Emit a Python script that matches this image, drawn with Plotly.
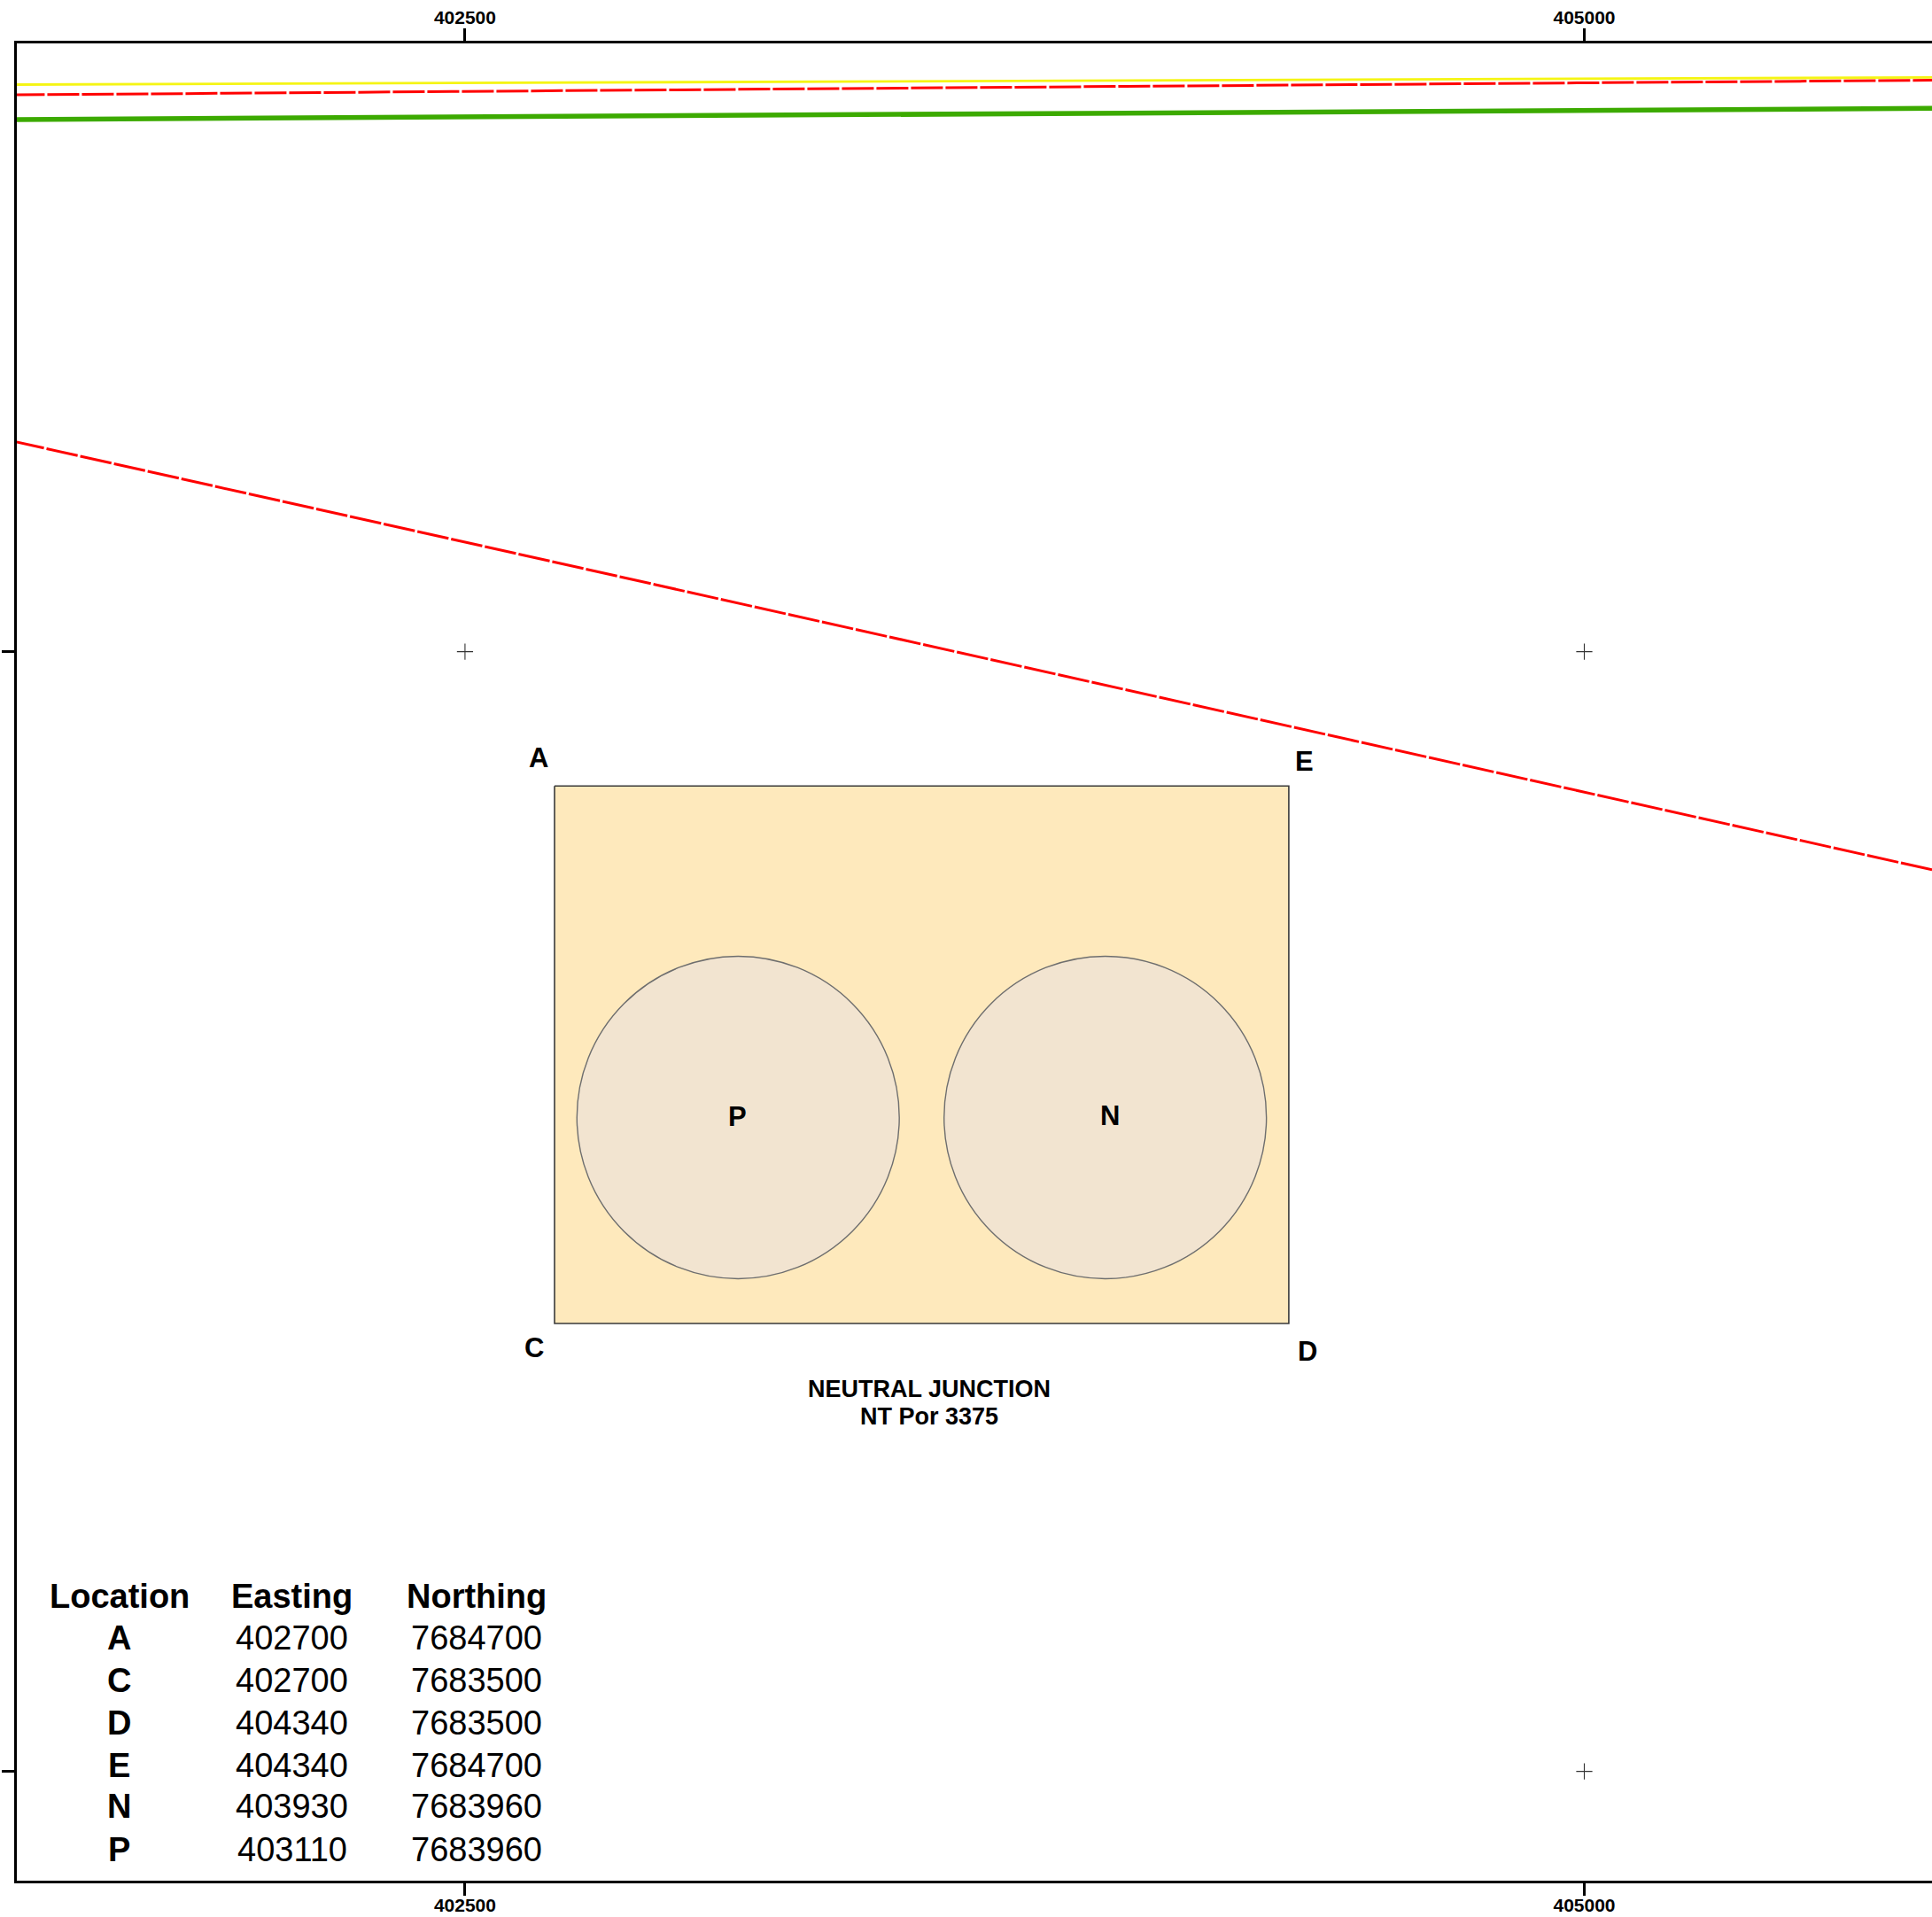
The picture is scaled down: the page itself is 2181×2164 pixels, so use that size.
import plotly.graph_objects as go

# Map frame and ticks
x_ticks = [402500, 405000]
y_ticks = [7682500, 7685000]
x_range = [401499.0, 405776.6]
y_range = [7682256, 7686358]

# Lines (easting, northing)
line_x = [401490, 405790]
yellow_y = [7686266, 7686282]
red_top_y = [7686243, 7686276]
green_y = [7686188, 7686213]
red_diag_y = [7685470, 7684510]

# Grid crosses
cross_x = [402500, 405000, 405000]
cross_y = [7685000, 7685000, 7682500]

# Table
locations = ["A", "C", "D", "E", "N", "P"]
eastings = [402700, 402700, 404340, 404340, 403930, 403110]
northings = [7684700, 7683500, 7683500, 7684700, 7683960, 7683960]
table_headers = ["Location", "Easting", "Northing"]

# Parcel
parcel_order = ["A", "E", "D", "C", "A"]
circle_centres = ["P", "N"]
circle_radius = 360
title_lines = ["NEUTRAL JUNCTION", "NT Por 3375"]

E = dict(zip(locations, eastings))
N = dict(zip(locations, northings))
W, H = 2181, 2164
ML, MR, MT, MB = 19.4, 0, 49, 41
FONT = "Liberation Sans"


def paper_x(px):
    return (px - ML) / (W - ML - MR)


def paper_y(py):
    return 1 - (py - MT) / (H - MT - MB)


fig = go.Figure()
fig.add_trace(go.Scatter(x=[E[k] for k in parcel_order], y=[N[k] for k in parcel_order],
                         mode="lines", fill="toself", fillcolor="#fee9bc",
                         line=dict(color="#3a3a3a", width=1.6), hoverinfo="skip"))
fig.add_trace(go.Scatter(x=line_x, y=yellow_y, mode="lines", xaxis="x2",
                         line=dict(color="#f5f514", width=2.8), hoverinfo="skip"))
fig.add_trace(go.Scatter(x=line_x, y=red_top_y, mode="lines",
                         line=dict(color="#ff0000", width=3, dash="36px,3px"), hoverinfo="skip"))
fig.add_trace(go.Scatter(x=line_x, y=green_y, mode="lines",
                         line=dict(color="#3caa00", width=5.5), hoverinfo="skip"))
fig.add_trace(go.Scatter(x=line_x, y=red_diag_y, mode="lines",
                         line=dict(color="#ff0000", width=3, dash="36px,3px"), hoverinfo="skip"))
fig.add_trace(go.Scatter(x=cross_x, y=cross_y, mode="markers",
                         marker=dict(symbol="cross-thin", size=13, line=dict(color="#333333", width=1.1)),
                         hoverinfo="skip"))

shapes = []
for k in circle_centres:
    shapes.append(dict(type="circle", xref="x", yref="y", layer="above",
                       x0=E[k] - circle_radius, x1=E[k] + circle_radius,
                       y0=N[k] - circle_radius, y1=N[k] + circle_radius,
                       fillcolor="#f2e4d0", line=dict(color="#6e6e6e", width=1.4)))

annotations = []
offsets = {"A": (-18, 32), "E": (18, 27.4), "C": (-23, -27), "D": (21, -31), "P": (-1, 1), "N": (5, 2)}
for k, (dx, dy) in offsets.items():
    annotations.append(dict(x=E[k], y=N[k], xref="x", yref="y", text=f"<b>{k}</b>", showarrow=False,
                            xanchor="center", yanchor="middle",
                            xshift=dx, yshift=dy, font=dict(family=FONT, size=31, color="black")))
for line, py in zip(title_lines, [1568, 1598.5]):
    annotations.append(dict(x=paper_x(1049), y=paper_y(py), xref="paper", yref="paper",
                            text=f"<b>{line}</b>", showarrow=False, xanchor="center", yanchor="middle",
                            font=dict(family=FONT, size=27, color="black")))

col_px = [135, 330, 538.5]
row_px = [1802, 1849, 1897, 1944.5, 1993, 2039, 2087.5]
for cx, head in zip(col_px, table_headers):
    annotations.append(dict(x=paper_x(cx), y=paper_y(row_px[0]), xref="paper", yref="paper",
                            text=f"<b>{head}</b>", showarrow=False, xanchor="center", yanchor="middle",
                            font=dict(family=FONT, size=38, color="black")))
for i, (loc, e, n) in enumerate(zip(locations, eastings, northings)):
    for cx, txt in zip(col_px, [f"<b>{loc}</b>", str(e), str(n)]):
        annotations.append(dict(x=paper_x(cx), y=paper_y(row_px[i + 1]), xref="paper", yref="paper",
                                text=txt, showarrow=False, xanchor="center", yanchor="middle",
                                font=dict(family=FONT, size=38, color="black")))

xcommon = dict(range=x_range, tickvals=x_ticks, ticktext=[str(v) for v in x_ticks], ticks="outside",
               ticklen=14, tickwidth=3, tickcolor="black", showline=True, linecolor="black", linewidth=3,
               showgrid=False, zeroline=False,
               tickfont=dict(family=FONT, size=21, color="black", weight="bold"))
fig.update_layout(
    width=W, height=H, autosize=False, showlegend=False,
    plot_bgcolor="white", paper_bgcolor="white",
    margin=dict(l=ML, r=MR, t=MT, b=MB),
    xaxis=dict(**xcommon, anchor="y", side="bottom", ticklabelstandoff=-7),
    xaxis2=dict(**xcommon, overlaying="x", anchor="y", side="top", ticklabelstandoff=-3),
    yaxis=dict(range=y_range, tickvals=y_ticks, showticklabels=False, ticks="outside", ticklen=14,
               tickwidth=3, tickcolor="black", showline=True, linecolor="black", linewidth=3,
               showgrid=False, zeroline=False),
    shapes=shapes, annotations=annotations,
)
fig.write_html("out.html", config={"displayModeBar": False},
               post_script="document.body.style.margin='0';document.documentElement.style.overflow='hidden';")
